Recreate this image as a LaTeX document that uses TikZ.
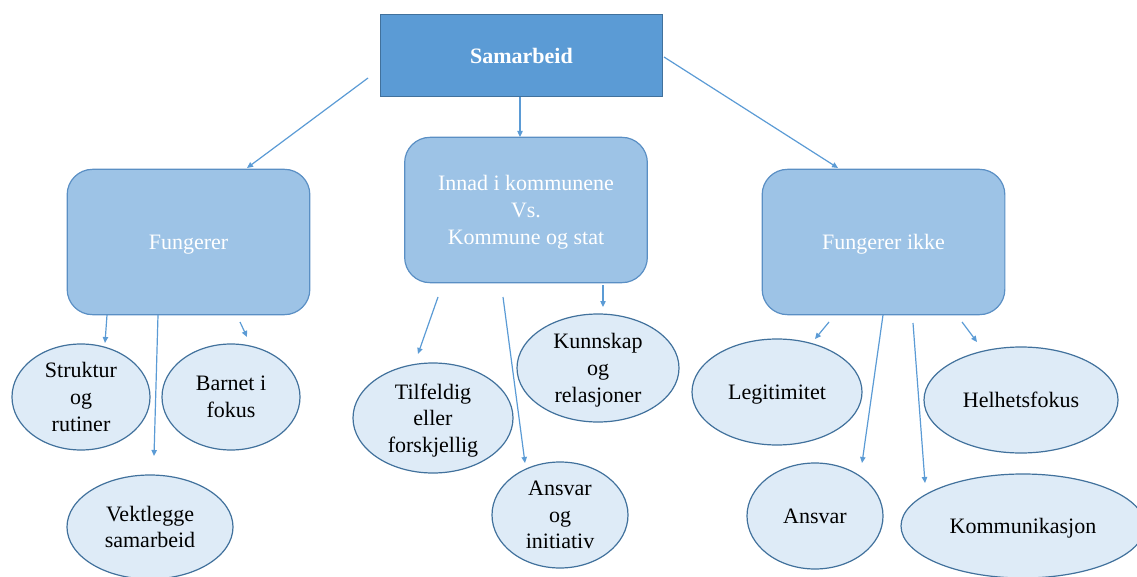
\documentclass[tikz,border=0pt]{standalone}
\usepackage{fontspec}
\setmainfont{Liberation Serif}
\usetikzlibrary{arrows.meta,shapes.geometric}
\definecolor{topfill}{HTML}{5B9BD5}
\definecolor{topline}{HTML}{41719C}
\definecolor{boxfill}{HTML}{9DC3E6}
\definecolor{boxline}{HTML}{5A8FC4}
\definecolor{ellfill}{HTML}{DEEBF7}
\definecolor{ellline}{HTML}{41719C}
\definecolor{arrowc}{HTML}{5B9BD5}
\tikzset{
  txt/.style={font=\fontsize{16.5}{20}\selectfont, align=center, inner sep=0pt, text depth=0pt},
  topbox/.style={draw=topline, fill=topfill, line width=0.9pt, minimum width=212pt, minimum height=62pt, txt, text=white, font=\fontsize{16.5}{20}\selectfont\bfseries},
  groupbox/.style={draw=boxline, fill=boxfill, line width=0.9pt, rounded corners=19pt, minimum width=182pt, minimum height=109pt, txt, text=white},
  leaf/.style={draw=ellline, fill=ellfill, line width=0.9pt, ellipse, txt, text=black},
  link/.style={draw=arrowc, line width=0.9pt, -{Triangle[length=4.5pt,width=4pt]}}
}
\newcommand{\leafnode}[5]{\node[leaf, minimum width=#3*1.5pt, minimum height=#4*1.5pt] (#1) at #2 {#5};}
\begin{document}
\begin{tikzpicture}[x=0.75pt, y=-0.75pt]
\useasboundingbox (0,0) rectangle (1137,577);
\begin{scope}
\clip (0,0) rectangle (1137,577);
% top level
\node[topbox] (top) at (521.5,55.5) {Samarbeid};
% three groups
\node[groupbox] (works) at (188.5,242) {Fungerer};
\node[groupbox] (mid) at (526,210) {Innad i kommunene\\Vs.\\Kommune og stat};
\node[groupbox] (fails) at (883.5,242) {Fungerer ikke};
% leaves
\leafnode{struk}{(81,397)}{69}{53}{Struktur\\og\\rutiner}
\leafnode{barnet}{(231,397)}{69}{53}{Barnet i\\fokus}
\leafnode{vekt}{(150,527)}{83}{52}{Vektlegge\\samarbeid}
\leafnode{tilf}{(433,418)}{80}{55}{Tilfeldig\\eller\\forskjellig}
\leafnode{kunn}{(598,368)}{81}{54}{Kunnskap\\og\\relasjoner}
\leafnode{ansinit}{(560,515)}{68}{53}{Ansvar\\og\\initiativ}
\leafnode{legit}{(777,392)}{85}{53}{Legitimitet}
\leafnode{helhet}{(1021,400)}{97}{53}{Helhetsfokus}
\leafnode{ansvar}{(815,516)}{68}{53}{Ansvar}
\leafnode{komm}{(1023,526)}{122}{52}{Kommunikasjon}
% connector end points
\coordinate (t1a) at (368,78);  \coordinate (t1b) at (247,168);
\coordinate (t2a) at (520,97);  \coordinate (t2b) at (520,137);
\coordinate (t3a) at (664,57);  \coordinate (t3b) at (838,168);
\coordinate (w1a) at (107,315); \coordinate (w1b) at (105,343);
\coordinate (w2a) at (158,315); \coordinate (w2b) at (154,456);
\coordinate (w3a) at (240,322); \coordinate (w3b) at (247,337);
\coordinate (m1a) at (438,297); \coordinate (m1b) at (418,354);
\coordinate (m2a) at (503,297); \coordinate (m2b) at (525,463);
\coordinate (m3a) at (603,285); \coordinate (m3b) at (603,307);
\coordinate (f1a) at (829,322); \coordinate (f1b) at (815,339);
\coordinate (f2a) at (883,315); \coordinate (f2b) at (862,463);
\coordinate (f3a) at (913,323); \coordinate (f3b) at (925,483);
\coordinate (f4a) at (962,322); \coordinate (f4b) at (977,342);
% connectors
\foreach \a/\b in {t1a/t1b,t2a/t2b,t3a/t3b,w1a/w1b,w2a/w2b,w3a/w3b,m1a/m1b,m2a/m2b,m3a/m3b,f1a/f1b,f2a/f2b,f3a/f3b,f4a/f4b}
  \draw[link] (\a) -- (\b);
\end{scope}
\end{tikzpicture}
\end{document}
